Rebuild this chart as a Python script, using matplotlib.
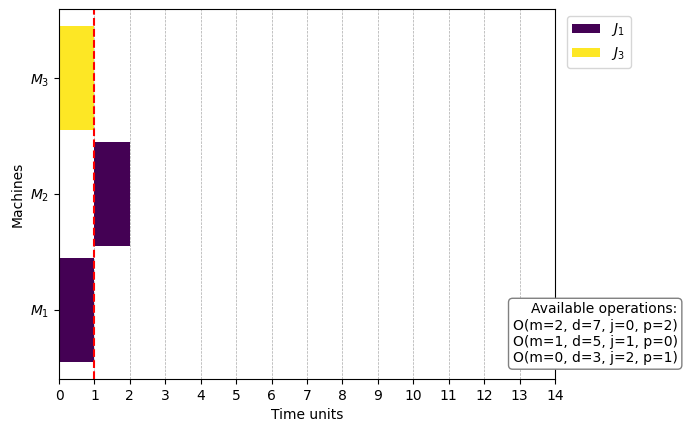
import matplotlib
matplotlib.use("Agg")
import matplotlib.pyplot as plt

machines = [0, 1, 2]
machine_labels = ["$M_1$", "$M_2$", "$M_3$"]
ops_machine = [0, 1, 2]
ops_start = [0, 1, 0]
ops_dur = [1, 1, 1]
ops_job = ["$J_1$", "$J_1$", "$J_3$"]
job_colors = {"$J_1$": "#440154", "$J_3$": "#fde725"}
current_time = 1
available = ["O(m=2, d=7, j=0, p=2)", "O(m=1, d=5, j=1, p=0)", "O(m=0, d=3, j=2, p=1)"]

fig = plt.figure(figsize=(6.88, 4.32), dpi=100)
ax = fig.add_axes([59/688, 1-379/432, 496/688, 370/432])
seen = set()
for m, s, d, j in zip(ops_machine, ops_start, ops_dur, ops_job):
    lab = j if j not in seen else None
    seen.add(j)
    ax.barh(m, d, left=s, height=0.9, color=job_colors[j], label=lab)
ax.axvline(current_time, color="red", linestyle="--")
ax.set_xlim(0, 14)
ax.set_xticks(range(15))
ax.set_ylim(-0.6, 2.6)
ax.set_yticks(machines)
ax.set_yticklabels(machine_labels)
ax.grid(axis="x", linestyle="--", linewidth=0.5, color="#aaaaaa")
ax.set_axisbelow(True)
ax.set_xlabel("Time units")
ax.set_ylabel("Machines")
ax.legend(loc="upper left", bbox_to_anchor=(1.01, 1))
fig.text(0.985, 0.155, "Available operations:\n" + "\n".join(available),
         ha="right", va="bottom", multialignment="right",
         bbox=dict(boxstyle="round", facecolor="white", edgecolor="gray"))
fig.savefig("out.png", dpi=100)
